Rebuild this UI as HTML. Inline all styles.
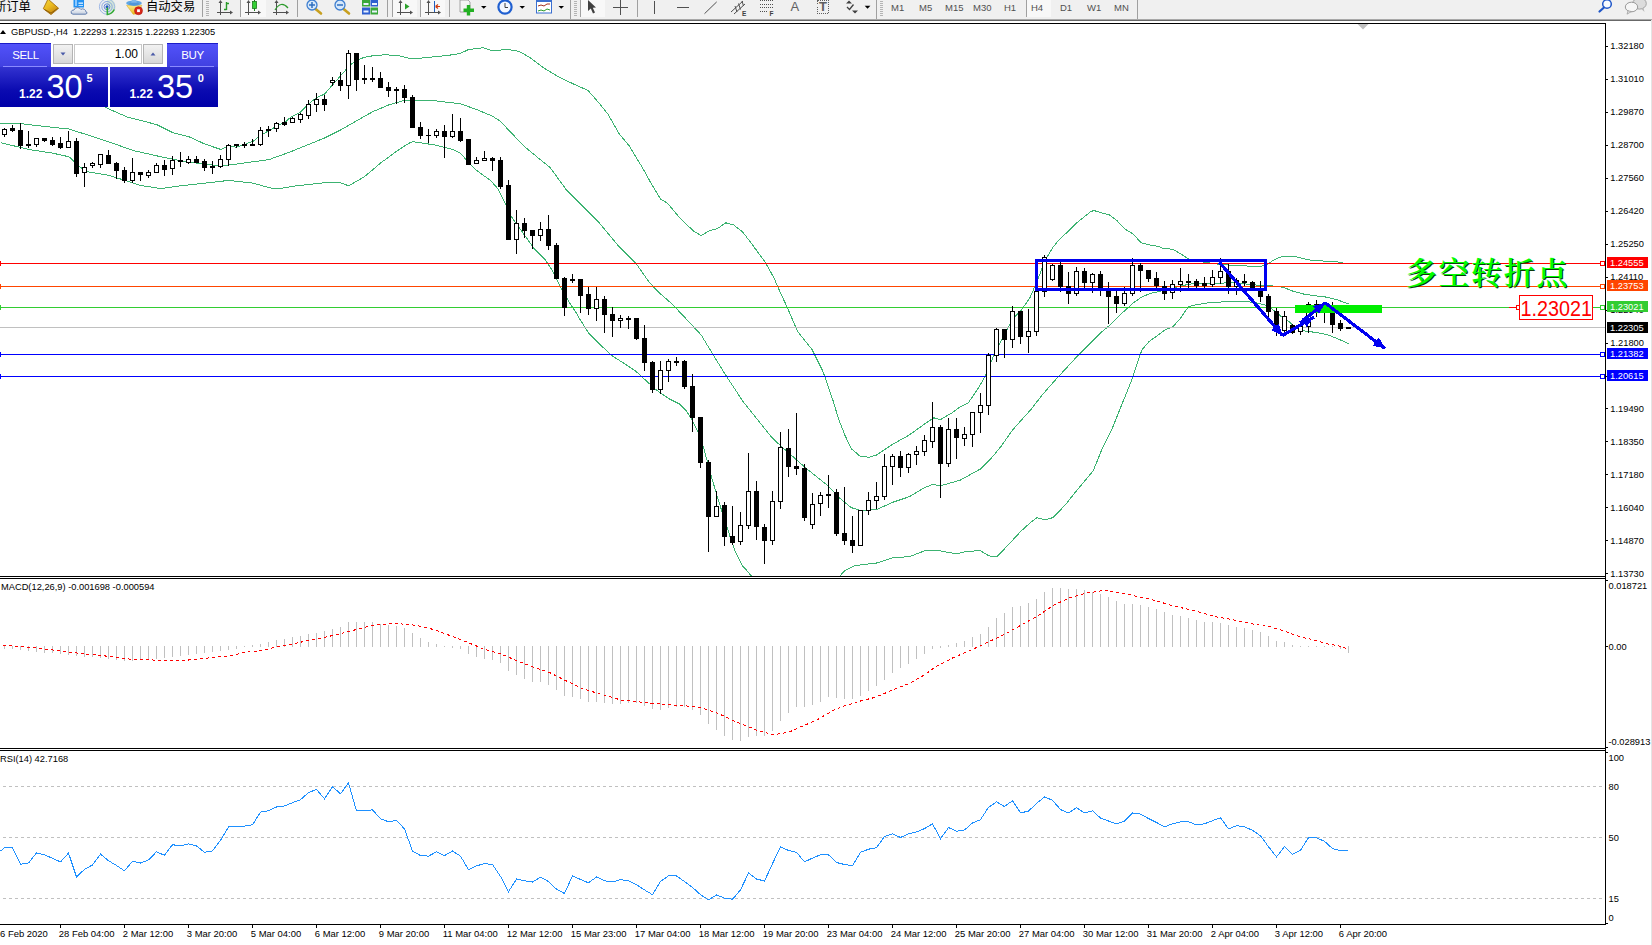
<!DOCTYPE html>
<html lang="zh"><head><meta charset="utf-8"><title>GBPUSD-,H4</title>
<style>
html,body{margin:0;padding:0;background:#fff;}
body{width:1652px;height:945px;overflow:hidden;position:relative;font-family:"Liberation Sans","Noto Sans CJK SC",sans-serif;}
#tb{position:absolute;left:0;top:0;width:1652px;height:19px;background:#f0f0f0;overflow:hidden;}
#tbl1{position:absolute;left:0;top:19px;width:1652px;height:1px;background:#a8a8a8;}
#tbl2{position:absolute;left:0;top:20px;width:1651px;height:1px;background:#686868;}
#tb .cn{position:absolute;top:-1.5px;font-size:12.3px;line-height:16px;color:#000;white-space:nowrap;}
#tb .tf{position:absolute;top:1px;font-size:9.5px;line-height:13px;color:#505050;white-space:nowrap;}
#tbicons{position:absolute;left:0;top:0;}
#tb span{z-index:2;}
#chart,#labels{position:absolute;left:0;top:0;}
#rightedge{position:absolute;left:1651px;top:20px;width:1px;height:925px;background:#e4e4e4;}
/* trade panel */
#tp{position:absolute;left:0;top:43px;width:218px;height:64px;color:#fff;}
#tp .btn{position:absolute;top:0;height:24px;width:51px;background:linear-gradient(#5252fa,#4040e0);box-sizing:border-box;border-top:1px solid #1c1cc8;font-size:11.5px;line-height:23px;text-align:center;letter-spacing:-0.4px;}
#tp .btn i{position:absolute;left:3px;right:4px;bottom:0;height:1px;background:#8a8aff;}
#tp .spin{position:absolute;left:51px;top:0;width:116px;height:24px;background:#fff;}
#tp .sb{position:absolute;top:1px;height:20px;width:20px;background:linear-gradient(#f2f2f2,#d8d8d8);border:1px solid #b4b4b4;box-sizing:border-box;}
#tp .inp{position:absolute;left:23px;top:1px;width:68px;height:20px;border:1px solid #c8c8c8;box-sizing:border-box;color:#000;font-size:12px;line-height:19px;text-align:right;padding-right:3px;}
#tp .pr{position:absolute;top:24px;height:40px;background:linear-gradient(#3232d0,#0a0ab0 60%,#0000a8);}
#tp .sm{position:absolute;font-weight:bold;font-size:12px;line-height:12px;}
#tp .bg{position:absolute;font-size:32.5px;line-height:32px;}
#tp .sup{position:absolute;font-weight:bold;font-size:11px;line-height:11px;}
</style></head><body>
<div id="tb">
<span class="cn" style="left:-6px">新订单</span>
<span class="cn" style="left:146px">自动交易</span>
<span class="tf" style="left:891px">M1</span>
<span class="tf" style="left:919px">M5</span>
<span class="tf" style="left:945px">M15</span>
<span class="tf" style="left:973px">M30</span>
<span class="tf" style="left:1004px">H1</span>
<span class="tf" style="left:1031px">H4</span>
<span class="tf" style="left:1060px">D1</span>
<span class="tf" style="left:1087px">W1</span>
<span class="tf" style="left:1114px">MN</span>
<svg id="tbicons" width="1652" height="19" viewBox="0 0 1652 19">
<rect x="241" y="0" width="25" height="17" fill="#f8f8f8"/>
<rect x="393" y="0" width="24" height="17" fill="#f8f8f8"/><rect x="421" y="0" width="24" height="17" fill="#f8f8f8"/>
<!-- gold tag -->
<defs>
<linearGradient id="gd" x1="0" y1="0" x2="0.6" y2="1"><stop offset="0" stop-color="#f7d93a"/><stop offset="0.55" stop-color="#e9b820"/><stop offset="1" stop-color="#c48410"/></linearGradient>
<linearGradient id="cl" x1="0" y1="0" x2="0" y2="1"><stop offset="0" stop-color="#ffffff"/><stop offset="1" stop-color="#c4cede"/></linearGradient>
<linearGradient id="yl" x1="0" y1="0" x2="0" y2="1"><stop offset="0" stop-color="#fbe98a"/><stop offset="1" stop-color="#e8b818"/></linearGradient>
</defs>
<polygon points="48,-1 58.600,8.300 51,14.600 43.300,8.700" fill="url(#gd)" stroke="#a87010" stroke-width="0.900" stroke-linejoin="round"/>
<path d="M44.500 9.500 L51 13.200 L57.500 8.500" fill="none" stroke="#8a5a08" stroke-width="1"/>
<!-- cloud/computer -->
<rect x="73.500" y="-1" width="10.500" height="8.500" fill="#2392f2"/>
<rect x="75" y="0" width="2" height="6" fill="#8cc8ff"/>
<rect x="78.500" y="2.500" width="4.500" height="1.300" fill="#e8f4ff"/>
<rect x="78.500" y="5" width="4.500" height="1" fill="#bfe0ff"/>
<path d="M73 14.200 Q70.600 14 71.200 11.600 Q71.800 9.800 74 10 Q74.800 7.300 77.800 7.600 Q80 7.800 80.800 9.400 Q82.600 8.300 84.400 9.400 Q85.800 10.300 85.600 11.400 Q87.300 11.800 86.900 13.200 Q86.600 14.300 85 14.200 Z" fill="url(#cl)" stroke="#5573a8" stroke-width="0.900"/>
<!-- signal -->
<path d="M107 6.700 L107 -2 A8.700 8.700 0 0 1 107 15.400 Z" fill="#cfe6cf" opacity="0.800"/>
<circle cx="107" cy="6.700" r="7.600" fill="none" stroke="#9db7e6" stroke-width="1"/>
<circle cx="107" cy="6.700" r="5.200" fill="none" stroke="#86a6e0" stroke-width="1"/>
<circle cx="107" cy="6.700" r="2.900" fill="none" stroke="#5f86d6" stroke-width="1"/>
<circle cx="107" cy="6.700" r="1.500" fill="#2457c5"/>
<path d="M107.300 7.500 L107.300 14.500 Q112 14 114.300 9.500" fill="none" stroke="#2faa2f" stroke-width="1.500"/>
<!-- hat with stop -->
<path d="M126.600 5.300 L141.900 5.300 L137 13.800 L133.200 14.300 Z" fill="url(#yl)" stroke="#d8a010" stroke-width="0.500"/>
<ellipse cx="134" cy="3.200" rx="7.800" ry="2.700" fill="#5fa6e4"/>
<path d="M131.200 3 L132 -1 L136 -1 L136.800 3 Z" fill="#7db8ec"/>
<ellipse cx="134" cy="4" rx="5" ry="1.400" fill="#3f86d0" opacity="0.500"/>
<circle cx="138.500" cy="10.700" r="4" fill="#d8281a"/>
<circle cx="138.500" cy="10.700" r="4" fill="none" stroke="#b01408" stroke-width="0.600"/>
<rect x="137.100" y="9.300" width="2.800" height="2.800" fill="#fff"/>
<!-- separator & grip -->
<rect x="202" y="0" width="1" height="17" fill="#a0a0a0"/>
<g fill="#b4b4b4"><rect x="206" y="1" width="3" height="1"/><rect x="206" y="3" width="3" height="1"/><rect x="206" y="5" width="3" height="1"/><rect x="206" y="7" width="3" height="1"/><rect x="206" y="9" width="3" height="1"/><rect x="206" y="11" width="3" height="1"/><rect x="206" y="13" width="3" height="1"/><rect x="206" y="15" width="3" height="1"/></g>
<!-- bar chart icon -->
<g stroke="#505050" stroke-width="1" fill="none" shape-rendering="crispEdges">
<path d="M220.5 1 V15 M217 12.5 H232"/>
<path d="M248.5 1 V15 M245 12.5 H260"/>
<path d="M276.5 1 V15 M273 12.5 H288"/>
<path d="M400.5 1 V15 M397 12.5 H412"/>
<path d="M428.5 1 V15 M425 12.5 H440"/>
</g>
<g fill="#505050"><polygon points="220.5,0 218.5,3 222.500,3"/><polygon points="248.5,0 246.5,3 250.5,3"/><polygon points="276.5,0 274.5,3 278.5,3"/><polygon points="400.5,0 398.5,3 402.5,3"/><polygon points="428.5,0 426.500,3 430.5,3"/>
<polygon points="233,12.5 230,10.5 230,14.5"/><polygon points="261,12.5 258,10.5 258,14.5"/><polygon points="289,12.5 286,10.5 286,14.5"/><polygon points="413,12.5 410,10.5 410,14.5"/><polygon points="441,12.5 438,10.5 438,14.5"/></g>
<path d="M226.5 2 V10 M226.5 3.5 H229 M224 9.500 H226.5" stroke="#2a9a2a" stroke-width="1.4" fill="none"/>
<rect x="240" y="0" width="1" height="17" fill="#a0a0a0"/>
<rect x="254" y="0" width="1" height="11" fill="#1f7a1f"/>
<rect x="252.500" y="1.500" width="4" height="7" fill="#35d035" stroke="#1f7a1f" stroke-width="0.8"/>
<path d="M275 10 Q281 0 288 8" stroke="#2a9a2a" stroke-width="1.2" fill="none"/>
<rect x="297" y="0" width="1" height="17" fill="#a0a0a0"/>
<!-- zoom in/out -->
<line x1="315" y1="8.500" x2="321" y2="13.500" stroke="#c8a020" stroke-width="2.6" stroke-linecap="round"/>
<circle cx="312" cy="5" r="5" fill="#d6e8fa" stroke="#3f7fd0" stroke-width="1.3"/>
<path d="M309 5 H315 M312 2 V8" stroke="#2f6fc0" stroke-width="1.5"/>
<line x1="343" y1="8.500" x2="349" y2="13.500" stroke="#c8a020" stroke-width="2.6" stroke-linecap="round"/>
<circle cx="340" cy="5" r="5" fill="#d6e8fa" stroke="#3f7fd0" stroke-width="1.3"/>
<path d="M337 5 H343" stroke="#2f6fc0" stroke-width="1.5"/>
<!-- grid tiles -->
<rect x="362" y="0" width="8" height="6.500" fill="#3aa83a"/><rect x="370.5" y="0" width="7.500" height="6.500" fill="#2f5fd0"/>
<rect x="362" y="7.500" width="8" height="7" fill="#2f5fd0"/><rect x="370.5" y="7.500" width="7.500" height="7" fill="#3aa83a"/>
<g fill="#eaf2ff"><rect x="363.500" y="3" width="5" height="2"/><rect x="372" y="3" width="5" height="2"/><rect x="363.500" y="10.500" width="5" height="2"/><rect x="372" y="10.500" width="5" height="2"/></g>
<rect x="387" y="0" width="1" height="17" fill="#a0a0a0"/>
<rect x="392" y="0" width="1" height="17" fill="#a0a0a0"/>
<polygon points="405,3.500 405,9.500 409.500,6.500" fill="#2aa02a"/>
<rect x="420" y="0" width="1" height="17" fill="#a0a0a0"/>
<rect x="434" y="1" width="1" height="11" fill="#1f5fc0"/>
<path d="M435.500 6.500 H440 M435.500 6.500 l2.500 -2 M435.500 6.500 l2.500 2" stroke="#d03a10" stroke-width="1.2" fill="none"/>
<rect x="449" y="0" width="1" height="17" fill="#a0a0a0"/>
<!-- indicators icon -->
<path d="M460 0 H468 L470 2 V12 H460Z" fill="#f4f4f4" stroke="#909090" stroke-width="0.8"/>
<path d="M468.500 5 V15.500 M463.500 10.200 H474" stroke="#22b022" stroke-width="3.400"/>
<polygon points="481,6 486.500,6 483.750,8.800" fill="#000"/>
<!-- clock -->
<circle cx="505" cy="7" r="6.600" fill="#f4f8ff" stroke="#1f5fd0" stroke-width="2.200"/>
<path d="M505 3 V7.500 H508" stroke="#404040" stroke-width="1" fill="none"/>
<polygon points="519.5,6 525,6 522.250,8.800" fill="#000"/>
<!-- template -->
<rect x="536.500" y="0" width="15" height="13" fill="#fff" stroke="#3a6fd0" stroke-width="1"/>
<rect x="536.500" y="0" width="15" height="2" fill="#3a6fd0"/>
<path d="M538 6 l3 -1 l3 1 l3 -2 l3 0" stroke="#a03020" stroke-width="1" fill="none"/>
<path d="M538 11 l3 -1 l3 1 l3 -2 l3 1" stroke="#2a9a2a" stroke-width="1" fill="none"/>
<polygon points="558.500,6 564,6 561.250,8.800" fill="#000"/>
<rect x="570" y="0" width="1" height="19" fill="#a0a0a0"/>
<g fill="#b4b4b4"><rect x="574" y="1" width="3" height="1"/><rect x="574" y="3" width="3" height="1"/><rect x="574" y="5" width="3" height="1"/><rect x="574" y="7" width="3" height="1"/><rect x="574" y="9" width="3" height="1"/><rect x="574" y="11" width="3" height="1"/><rect x="574" y="13" width="3" height="1"/><rect x="574" y="15" width="3" height="1"/></g>
<rect x="580" y="0" width="1" height="17" fill="#a0a0a0"/>
<rect x="581" y="0" width="24" height="17" fill="#f8f8f8"/>
<polygon points="588,0 588,11 590.800,8.500 593,13.500 595,12.600 592.800,7.800 596,7.500" fill="#404040"/>
<path d="M620.500 0 V15 M613 7.500 H628" stroke="#505050" stroke-width="1" fill="none" shape-rendering="crispEdges"/>
<rect x="637" y="0" width="1" height="17" fill="#a0a0a0"/>
<rect x="654" y="1" width="1" height="13" fill="#505050"/>
<rect x="677" y="7" width="12" height="1" fill="#505050"/>
<line x1="704.500" y1="13.700" x2="716.700" y2="1.900" stroke="#505050" stroke-width="1"/>
<path d="M731 12 L743 1 M734 14 L745 4 M735 6 l2 6 M738.500 3.500 l2 6 M742 1 l1.500 5" stroke="#505050" stroke-width="1" fill="none"/>
<path d="M760 0.500 H773 M760 4 H773 M760 7.500 H773 M760 11.500 H768" stroke="#505050" stroke-width="1" stroke-dasharray="1 1" fill="none" shape-rendering="crispEdges"/>
<rect x="828" y="0" width="1" height="0" fill="#000"/>
<rect x="817.500" y="0.500" width="11" height="12.500" fill="none" stroke="#606060" stroke-width="1" stroke-dasharray="1 1" shape-rendering="crispEdges"/>
<path d="M846 3.500 l3 -3 l3 3 Z M852 10.500 l3 3 l3 -3Z" fill="#404040"/>
<path d="M847 7 l2.500 2.500 l4 -5" stroke="#404040" stroke-width="1.300" fill="none"/>
<polygon points="864.700,5.800 870.400,5.800 867.550,8.800" fill="#000"/>
<rect x="876" y="0" width="1" height="19" fill="#a0a0a0"/>
<g fill="#b4b4b4"><rect x="880" y="1" width="3" height="1"/><rect x="880" y="3" width="3" height="1"/><rect x="880" y="5" width="3" height="1"/><rect x="880" y="7" width="3" height="1"/><rect x="880" y="9" width="3" height="1"/><rect x="880" y="11" width="3" height="1"/><rect x="880" y="13" width="3" height="1"/><rect x="880" y="15" width="3" height="1"/></g>
<rect x="1026" y="0" width="25" height="17" fill="#f8f8f8"/>
<rect x="1026" y="0" width="1" height="17" fill="#a0a0a0"/>
<rect x="1137" y="0" width="1" height="19" fill="#a0a0a0"/>
<!-- search -->
<circle cx="1607" cy="4" r="4.300" fill="#f8fbff" stroke="#1f56c8" stroke-width="1.500"/>
<line x1="1604" y1="7.500" x2="1599.500" y2="11.500" stroke="#1f56c8" stroke-width="2.200" stroke-linecap="round"/>
<!-- bubbles -->
<ellipse cx="1639.500" cy="3.500" rx="6.800" ry="5.600" fill="#dcdcdc" stroke="#9a9a9a" stroke-width="0.900"/>
<polygon points="1641,8.500 1644.500,12 1643.500,7.800" fill="#b8b8b8"/>
<ellipse cx="1631.500" cy="7" rx="6.200" ry="4.800" fill="#f6f6f6" stroke="#8e8e8e" stroke-width="0.900"/>
<polygon points="1628,10.800 1627,14.200 1631.500,11.500" fill="#e0e0e0" stroke="#8e8e8e" stroke-width="0.600"/>
</svg>
<span class="tf" style="left:790.500px;top:-1px;font-size:13px;line-height:16px;color:#606060">A</span>
<span class="tf" style="left:819px;top:-1px;font-size:13px;line-height:16px;color:#606060;font-weight:bold">T</span>
<span class="tf" style="left:742px;top:10px;font-size:6.500px;line-height:7px;color:#404040;font-weight:bold">E</span>
<span class="tf" style="left:769.500px;top:10px;font-size:6.500px;line-height:7px;color:#404040;font-weight:bold">F</span>
</div>
<div id="tbl1"></div><div id="tbl2"></div>
<svg id="chart" width="1652" height="945" viewBox="0 0 1652 945" shape-rendering="crispEdges">
<defs><clipPath id="cm"><rect x="0" y="24" width="1605" height="552"/></clipPath></defs>
<rect x="0" y="23" width="1606" height="1" fill="#000"/>
<rect x="0" y="576" width="1606" height="1" fill="#000"/>
<rect x="0" y="578" width="1606" height="1" fill="#000"/>
<rect x="0" y="748" width="1606" height="1" fill="#000"/>
<rect x="0" y="750" width="1606" height="1" fill="#000"/>
<rect x="0" y="924" width="1606" height="1" fill="#000"/>
<rect x="1605" y="23" width="1" height="902" fill="#000"/>
<polygon points="1357.5,24 1368.5,24 1363,29.5" fill="#c0c0c0" shape-rendering="geometricPrecision"/>
<g clip-path="url(#cm)">
<polyline points="90.5,100.5 110.4,109.6 127.6,117.2 141.0,120.5 157.0,124.7 173.0,132.8 189.0,136.8 205.0,144.1 220.9,149.5 228.9,145.9 236.5,147.3 252.9,141.4 261.1,135.0 269.1,130.5 277.1,125.9 285.0,122.3 290.5,117.3 300.5,112.2 308.5,104.0 316.5,97.7 324.5,94.1 332.5,85.0 340.5,75.9 348.5,66.8 353.1,62.8 360.5,58.6 368.5,56.3 384.9,54.7 399.5,55.9 412.5,59.0 428.5,57.4 446.5,55.6 459.5,53.7 468.5,49.6 483.0,47.8 492.1,50.5 508.5,49.6 519.3,51.4 530.2,57.7 544.7,68.6 559.2,77.3 573.8,84.1 588.1,90.5 600.5,104.8 608.1,114.3 619.5,134.3 629.1,145.7 642.4,167.6 651.9,184.8 660.5,199.1 667.5,203.2 681.2,219.5 693.9,231.3 701.1,235.5 710.2,230.4 717.5,228.6 725.7,222.8 733.8,225.0 742.9,232.2 753.8,246.7 764.7,261.3 773.8,277.6 781.0,294.0 786.6,305.9 797.5,331.3 812.0,349.5 822.9,371.3 833.0,400.5 838.5,418.7 844.8,435.0 851.2,448.6 860.3,456.4 869.4,457.2 876.6,455.0 893.0,444.1 909.3,435.0 924.5,424.1 933.8,417.8 940.5,419.6 952.9,412.3 960.5,406.6 968.5,402.6 978.6,387.6 985.9,374.9 993.2,356.7 1002.2,338.6 1013.1,318.6 1020.4,311.3 1029.5,298.6 1036.7,282.3 1045.8,258.7 1048.7,254.5 1053.2,247.0 1059.3,239.4 1066.8,232.6 1075.9,223.5 1083.5,217.4 1091.0,211.4 1094.1,210.6 1100.1,212.4 1109.2,214.9 1116.8,220.5 1125.8,229.5 1133.4,234.1 1141.0,242.7 1148.5,244.7 1157.6,246.2 1163.7,248.5 1172.8,249.2 1181.8,254.5 1188.6,259.1 1203.0,262.1 1219.7,264.4 1242.4,265.9 1260.5,266.3 1266.5,265.1 1272.6,260.6 1278.7,257.5 1283.7,256.5 1297.0,256.9 1307.7,259.8 1323.7,261.1 1337.0,261.8 1345.0,263.4 1348.5,264.0" fill="none" stroke="#3cb371" stroke-width="1"/>
<polyline points="0.5,123.2 21.0,123.7 45.0,126.5 69.0,129.0 84.9,134.1 108.9,141.9 133.1,150.5 157.0,155.9 181.0,160.8 197.0,163.1 213.0,165.0 220.9,165.9 236.5,164.1 269.3,159.5 290.5,151.8 308.5,144.5 324.5,138.0 340.5,130.0 356.5,120.9 372.5,111.8 388.5,105.0 404.5,100.4 417.5,100.4 436.5,101.0 452.5,102.8 461.2,104.0 476.5,109.5 492.5,116.2 500.5,121.3 508.5,130.0 524.7,146.7 541.1,160.3 550.2,167.6 566.8,190.5 584.9,208.6 599.5,223.1 617.6,244.9 635.8,263.1 648.5,281.2 657.7,291.4 672.2,304.1 686.7,319.5 701.2,335.0 712.1,353.1 726.7,376.7 737.6,393.1 742.2,400.5 756.8,418.7 771.3,436.8 780.7,445.9 793.1,456.8 807.6,469.5 825.8,484.0 840.3,498.6 851.2,507.6 860.3,510.4 876.6,509.5 893.0,502.2 909.3,496.7 924.5,487.7 932.5,484.4 940.5,485.8 956.5,481.3 960.5,480.0 980.6,468.9 990.7,458.9 1000.7,446.8 1012.8,429.7 1020.8,420.7 1030.9,409.6 1042.2,394.9 1056.7,378.5 1078.5,354.9 1100.3,333.1 1109.4,325.5 1122.1,313.1 1133.0,303.1 1142.1,296.8 1151.1,293.2 1158.4,291.7 1170.5,288.5 1180.5,286.0 1194.7,283.2 1204.5,284.1 1217.1,283.4 1232.5,282.5 1250.5,284.5 1265.1,285.8 1273.1,286.0 1283.7,287.4 1291.7,290.8 1305.0,294.4 1315.7,295.8 1326.3,297.1 1337.0,299.8 1348.5,303.8" fill="none" stroke="#3cb371" stroke-width="1"/>
<polyline points="0.5,142.6 29.0,149.5 53.0,153.2 69.0,156.8 77.1,164.1 84.9,171.3 108.9,175.3 124.9,180.4 141.0,185.5 157.0,188.0 165.0,188.0 181.0,185.8 205.0,183.1 228.9,180.4 252.9,183.1 269.1,187.7 277.1,188.9 293.0,186.3 308.5,184.5 324.5,182.7 340.5,182.7 348.5,185.8 364.5,176.7 380.5,163.1 396.5,151.3 408.5,143.5 412.5,141.6 420.5,142.7 436.5,145.3 452.5,149.4 460.5,153.1 468.5,162.7 476.5,170.3 490.5,180.5 497.8,188.6 505.9,205.0 511.4,216.8 525.0,235.8 534.1,248.5 545.0,259.5 552.2,270.3 560.4,286.7 568.5,301.2 575.8,312.1 579.5,318.6 588.7,333.2 599.5,344.1 612.3,355.9 625.0,364.0 635.9,371.3 646.8,381.3 655.8,389.5 668.5,398.5 679.5,404.0 686.7,411.2 692.2,420.3 698.7,433.2 704.1,449.5 711.4,476.8 716.8,494.9 724.1,518.5 729.5,534.9 735.0,551.2 742.2,565.7 746.8,570.5 752.5,577.5 765.5,590.5 800.5,598.5 828.5,588.5 838.5,577.5 844.8,570.5 854.8,565.7 876.6,563.0 893.0,557.6 909.3,556.7 924.5,550.9 940.5,550.9 956.5,553.9 967.4,551.2 980.6,550.8 988.7,555.8 996.7,557.0 1008.8,544.3 1020.8,531.3 1030.9,522.2 1036.9,517.8 1045.0,519.8 1053.0,517.6 1065.1,505.1 1077.1,490.0 1093.2,470.9 1101.3,450.8 1111.3,430.7 1119.4,410.6 1125.7,394.9 1133.0,376.7 1137.5,362.2 1142.1,349.5 1149.3,341.3 1158.4,334.9 1165.7,329.5 1172.9,326.8 1180.2,318.6 1188.4,306.8 1194.7,305.0 1207.8,302.8 1223.8,301.8 1249.1,301.8 1257.1,303.1 1265.1,305.1 1272.5,309.5 1281.1,316.4 1289.0,321.7 1294.4,327.1 1305.0,331.1 1315.7,332.4 1326.3,334.4 1337.0,338.4 1348.5,343.7" fill="none" stroke="#3cb371" stroke-width="1"/>
<rect x="0" y="263" width="1605" height="1" fill="#ff0000"/>
<rect x="0" y="286" width="1605" height="1" fill="#ff4500"/>
<rect x="0" y="307" width="1605" height="1" fill="#32cd32"/>
<rect x="0" y="327" width="1605" height="1" fill="#c0c0c0"/>
<rect x="0" y="354" width="1605" height="1" fill="#0000ff"/>
<rect x="0" y="376" width="1605" height="1" fill="#0000ff"/>
<rect x="4" y="128" width="1" height="9" fill="#000"/>
<rect x="2" y="129" width="5" height="6" fill="#000"/>
<rect x="3" y="130" width="3" height="4" fill="#fff"/>
<rect x="12" y="125" width="1" height="7" fill="#000"/>
<rect x="10" y="128" width="5" height="3" fill="#000"/>
<rect x="20" y="123" width="1" height="26" fill="#000"/>
<rect x="18" y="130" width="5" height="16" fill="#000"/>
<rect x="28" y="131" width="1" height="17" fill="#000"/>
<rect x="26" y="144" width="5" height="2" fill="#000"/>
<rect x="36" y="138" width="1" height="9" fill="#000"/>
<rect x="34" y="138" width="5" height="7" fill="#000"/>
<rect x="35" y="139" width="3" height="5" fill="#fff"/>
<rect x="44" y="138" width="1" height="4" fill="#000"/>
<rect x="42" y="138" width="5" height="3" fill="#000"/>
<rect x="52" y="137" width="1" height="9" fill="#000"/>
<rect x="50" y="140" width="5" height="5" fill="#000"/>
<rect x="60" y="137" width="1" height="12" fill="#000"/>
<rect x="58" y="143" width="5" height="5" fill="#000"/>
<rect x="68" y="131" width="1" height="17" fill="#000"/>
<rect x="66" y="141" width="5" height="7" fill="#000"/>
<rect x="67" y="142" width="3" height="5" fill="#fff"/>
<rect x="76" y="138" width="1" height="39" fill="#000"/>
<rect x="74" y="141" width="5" height="33" fill="#000"/>
<rect x="84" y="163" width="1" height="24" fill="#000"/>
<rect x="82" y="167" width="5" height="6" fill="#000"/>
<rect x="83" y="168" width="3" height="4" fill="#fff"/>
<rect x="92" y="162" width="1" height="6" fill="#000"/>
<rect x="90" y="163" width="5" height="3" fill="#000"/>
<rect x="91" y="164" width="3" height="1" fill="#fff"/>
<rect x="100" y="154" width="1" height="14" fill="#000"/>
<rect x="98" y="154" width="5" height="11" fill="#000"/>
<rect x="99" y="155" width="3" height="9" fill="#fff"/>
<rect x="108" y="150" width="1" height="14" fill="#000"/>
<rect x="106" y="155" width="5" height="9" fill="#000"/>
<rect x="116" y="162" width="1" height="17" fill="#000"/>
<rect x="114" y="163" width="5" height="8" fill="#000"/>
<rect x="124" y="167" width="1" height="16" fill="#000"/>
<rect x="122" y="170" width="5" height="11" fill="#000"/>
<rect x="132" y="158" width="1" height="25" fill="#000"/>
<rect x="130" y="172" width="5" height="9" fill="#000"/>
<rect x="131" y="173" width="3" height="7" fill="#fff"/>
<rect x="140" y="172" width="1" height="9" fill="#000"/>
<rect x="138" y="172" width="5" height="3" fill="#000"/>
<rect x="148" y="170" width="1" height="8" fill="#000"/>
<rect x="146" y="172" width="5" height="4" fill="#000"/>
<rect x="147" y="173" width="3" height="2" fill="#fff"/>
<rect x="156" y="163" width="1" height="10" fill="#000"/>
<rect x="154" y="165" width="5" height="8" fill="#000"/>
<rect x="155" y="166" width="3" height="6" fill="#fff"/>
<rect x="164" y="160" width="1" height="16" fill="#000"/>
<rect x="162" y="165" width="5" height="5" fill="#000"/>
<rect x="172" y="156" width="1" height="19" fill="#000"/>
<rect x="170" y="160" width="5" height="9" fill="#000"/>
<rect x="171" y="161" width="3" height="7" fill="#fff"/>
<rect x="180" y="152" width="1" height="15" fill="#000"/>
<rect x="178" y="160" width="5" height="2" fill="#000"/>
<rect x="188" y="156" width="1" height="8" fill="#000"/>
<rect x="186" y="159" width="5" height="4" fill="#000"/>
<rect x="187" y="160" width="3" height="2" fill="#fff"/>
<rect x="196" y="156" width="1" height="7" fill="#000"/>
<rect x="194" y="159" width="5" height="4" fill="#000"/>
<rect x="204" y="159" width="1" height="12" fill="#000"/>
<rect x="202" y="161" width="5" height="7" fill="#000"/>
<rect x="212" y="161" width="1" height="13" fill="#000"/>
<rect x="210" y="166" width="5" height="2" fill="#000"/>
<rect x="220" y="155" width="1" height="13" fill="#000"/>
<rect x="218" y="159" width="5" height="8" fill="#000"/>
<rect x="219" y="160" width="3" height="6" fill="#fff"/>
<rect x="228" y="144" width="1" height="22" fill="#000"/>
<rect x="226" y="145" width="5" height="15" fill="#000"/>
<rect x="227" y="146" width="3" height="13" fill="#fff"/>
<rect x="236" y="144" width="1" height="4" fill="#000"/>
<rect x="234" y="144" width="5" height="2" fill="#000"/>
<rect x="244" y="142" width="1" height="6" fill="#000"/>
<rect x="242" y="144" width="5" height="2" fill="#000"/>
<rect x="252" y="139" width="1" height="7" fill="#000"/>
<rect x="250" y="144" width="5" height="2" fill="#000"/>
<rect x="260" y="127" width="1" height="19" fill="#000"/>
<rect x="258" y="130" width="5" height="15" fill="#000"/>
<rect x="259" y="131" width="3" height="13" fill="#fff"/>
<rect x="268" y="126" width="1" height="11" fill="#000"/>
<rect x="266" y="129" width="5" height="2" fill="#000"/>
<rect x="276" y="122" width="1" height="10" fill="#000"/>
<rect x="274" y="123" width="5" height="6" fill="#000"/>
<rect x="275" y="124" width="3" height="4" fill="#fff"/>
<rect x="284" y="117" width="1" height="9" fill="#000"/>
<rect x="282" y="122" width="5" height="3" fill="#000"/>
<rect x="292" y="117" width="1" height="6" fill="#000"/>
<rect x="290" y="118" width="5" height="5" fill="#000"/>
<rect x="291" y="119" width="3" height="3" fill="#fff"/>
<rect x="300" y="113" width="1" height="10" fill="#000"/>
<rect x="298" y="114" width="5" height="6" fill="#000"/>
<rect x="299" y="115" width="3" height="4" fill="#fff"/>
<rect x="308" y="100" width="1" height="19" fill="#000"/>
<rect x="306" y="104" width="5" height="12" fill="#000"/>
<rect x="307" y="105" width="3" height="10" fill="#fff"/>
<rect x="316" y="93" width="1" height="19" fill="#000"/>
<rect x="314" y="99" width="5" height="6" fill="#000"/>
<rect x="315" y="100" width="3" height="4" fill="#fff"/>
<rect x="324" y="95" width="1" height="16" fill="#000"/>
<rect x="322" y="99" width="5" height="6" fill="#000"/>
<rect x="332" y="77" width="1" height="9" fill="#000"/>
<rect x="330" y="80" width="5" height="3" fill="#000"/>
<rect x="331" y="81" width="3" height="1" fill="#fff"/>
<rect x="340" y="72" width="1" height="19" fill="#000"/>
<rect x="338" y="80" width="5" height="6" fill="#000"/>
<rect x="348" y="50" width="1" height="49" fill="#000"/>
<rect x="346" y="53" width="5" height="33" fill="#000"/>
<rect x="347" y="54" width="3" height="31" fill="#fff"/>
<rect x="356" y="53" width="1" height="38" fill="#000"/>
<rect x="354" y="53" width="5" height="27" fill="#000"/>
<rect x="364" y="65" width="1" height="19" fill="#000"/>
<rect x="362" y="78" width="5" height="2" fill="#000"/>
<rect x="372" y="67" width="1" height="15" fill="#000"/>
<rect x="370" y="78" width="5" height="2" fill="#000"/>
<rect x="380" y="72" width="1" height="16" fill="#000"/>
<rect x="378" y="78" width="5" height="10" fill="#000"/>
<rect x="388" y="82" width="1" height="15" fill="#000"/>
<rect x="386" y="87" width="5" height="4" fill="#000"/>
<rect x="396" y="87" width="1" height="17" fill="#000"/>
<rect x="394" y="89" width="5" height="2" fill="#000"/>
<rect x="404" y="85" width="1" height="18" fill="#000"/>
<rect x="402" y="89" width="5" height="9" fill="#000"/>
<rect x="412" y="95" width="1" height="33" fill="#000"/>
<rect x="410" y="97" width="5" height="31" fill="#000"/>
<rect x="420" y="122" width="1" height="17" fill="#000"/>
<rect x="418" y="127" width="5" height="9" fill="#000"/>
<rect x="428" y="129" width="1" height="14" fill="#000"/>
<rect x="426" y="135" width="5" height="1" fill="#000"/>
<rect x="436" y="129" width="1" height="9" fill="#000"/>
<rect x="434" y="131" width="5" height="5" fill="#000"/>
<rect x="435" y="132" width="3" height="3" fill="#fff"/>
<rect x="444" y="125" width="1" height="33" fill="#000"/>
<rect x="442" y="131" width="5" height="6" fill="#000"/>
<rect x="452" y="114" width="1" height="24" fill="#000"/>
<rect x="450" y="131" width="5" height="6" fill="#000"/>
<rect x="451" y="132" width="3" height="4" fill="#fff"/>
<rect x="460" y="118" width="1" height="24" fill="#000"/>
<rect x="458" y="131" width="5" height="10" fill="#000"/>
<rect x="468" y="139" width="1" height="26" fill="#000"/>
<rect x="466" y="139" width="5" height="26" fill="#000"/>
<rect x="476" y="157" width="1" height="7" fill="#000"/>
<rect x="474" y="160" width="5" height="4" fill="#000"/>
<rect x="475" y="161" width="3" height="2" fill="#fff"/>
<rect x="484" y="151" width="1" height="10" fill="#000"/>
<rect x="482" y="158" width="5" height="3" fill="#000"/>
<rect x="483" y="159" width="3" height="1" fill="#fff"/>
<rect x="492" y="157" width="1" height="14" fill="#000"/>
<rect x="490" y="158" width="5" height="3" fill="#000"/>
<rect x="500" y="157" width="1" height="32" fill="#000"/>
<rect x="498" y="160" width="5" height="27" fill="#000"/>
<rect x="508" y="180" width="1" height="60" fill="#000"/>
<rect x="506" y="185" width="5" height="55" fill="#000"/>
<rect x="516" y="210" width="1" height="44" fill="#000"/>
<rect x="514" y="223" width="5" height="17" fill="#000"/>
<rect x="515" y="224" width="3" height="15" fill="#fff"/>
<rect x="524" y="218" width="1" height="20" fill="#000"/>
<rect x="522" y="223" width="5" height="8" fill="#000"/>
<rect x="532" y="230" width="1" height="19" fill="#000"/>
<rect x="530" y="230" width="5" height="6" fill="#000"/>
<rect x="540" y="222" width="1" height="19" fill="#000"/>
<rect x="538" y="229" width="5" height="7" fill="#000"/>
<rect x="539" y="230" width="3" height="5" fill="#fff"/>
<rect x="548" y="215" width="1" height="35" fill="#000"/>
<rect x="546" y="229" width="5" height="17" fill="#000"/>
<rect x="556" y="243" width="1" height="36" fill="#000"/>
<rect x="554" y="245" width="5" height="34" fill="#000"/>
<rect x="564" y="277" width="1" height="39" fill="#000"/>
<rect x="562" y="278" width="5" height="30" fill="#000"/>
<rect x="572" y="274" width="1" height="9" fill="#000"/>
<rect x="570" y="279" width="5" height="2" fill="#000"/>
<rect x="580" y="279" width="1" height="34" fill="#000"/>
<rect x="578" y="279" width="5" height="17" fill="#000"/>
<rect x="588" y="287" width="1" height="28" fill="#000"/>
<rect x="586" y="294" width="5" height="15" fill="#000"/>
<rect x="596" y="287" width="1" height="34" fill="#000"/>
<rect x="594" y="299" width="5" height="10" fill="#000"/>
<rect x="595" y="300" width="3" height="8" fill="#fff"/>
<rect x="604" y="296" width="1" height="37" fill="#000"/>
<rect x="602" y="299" width="5" height="16" fill="#000"/>
<rect x="612" y="307" width="1" height="30" fill="#000"/>
<rect x="610" y="314" width="5" height="7" fill="#000"/>
<rect x="620" y="315" width="1" height="13" fill="#000"/>
<rect x="618" y="318" width="5" height="3" fill="#000"/>
<rect x="619" y="319" width="3" height="1" fill="#fff"/>
<rect x="628" y="316" width="1" height="13" fill="#000"/>
<rect x="626" y="318" width="5" height="2" fill="#000"/>
<rect x="636" y="318" width="1" height="22" fill="#000"/>
<rect x="634" y="318" width="5" height="21" fill="#000"/>
<rect x="644" y="325" width="1" height="46" fill="#000"/>
<rect x="642" y="338" width="5" height="25" fill="#000"/>
<rect x="652" y="361" width="1" height="32" fill="#000"/>
<rect x="650" y="362" width="5" height="28" fill="#000"/>
<rect x="660" y="361" width="1" height="33" fill="#000"/>
<rect x="658" y="370" width="5" height="20" fill="#000"/>
<rect x="659" y="371" width="3" height="18" fill="#fff"/>
<rect x="668" y="359" width="1" height="23" fill="#000"/>
<rect x="666" y="361" width="5" height="10" fill="#000"/>
<rect x="667" y="362" width="3" height="8" fill="#fff"/>
<rect x="676" y="357" width="1" height="9" fill="#000"/>
<rect x="674" y="361" width="5" height="2" fill="#000"/>
<rect x="684" y="360" width="1" height="29" fill="#000"/>
<rect x="682" y="361" width="5" height="26" fill="#000"/>
<rect x="692" y="374" width="1" height="58" fill="#000"/>
<rect x="690" y="386" width="5" height="32" fill="#000"/>
<rect x="700" y="417" width="1" height="51" fill="#000"/>
<rect x="698" y="417" width="5" height="46" fill="#000"/>
<rect x="708" y="460" width="1" height="92" fill="#000"/>
<rect x="706" y="462" width="5" height="55" fill="#000"/>
<rect x="716" y="491" width="1" height="26" fill="#000"/>
<rect x="714" y="506" width="5" height="11" fill="#000"/>
<rect x="715" y="507" width="3" height="9" fill="#fff"/>
<rect x="724" y="502" width="1" height="44" fill="#000"/>
<rect x="722" y="505" width="5" height="32" fill="#000"/>
<rect x="732" y="506" width="1" height="39" fill="#000"/>
<rect x="730" y="536" width="5" height="7" fill="#000"/>
<rect x="740" y="512" width="1" height="33" fill="#000"/>
<rect x="738" y="525" width="5" height="17" fill="#000"/>
<rect x="739" y="526" width="3" height="15" fill="#fff"/>
<rect x="748" y="453" width="1" height="76" fill="#000"/>
<rect x="746" y="491" width="5" height="35" fill="#000"/>
<rect x="747" y="492" width="3" height="33" fill="#fff"/>
<rect x="756" y="481" width="1" height="59" fill="#000"/>
<rect x="754" y="491" width="5" height="36" fill="#000"/>
<rect x="764" y="524" width="1" height="40" fill="#000"/>
<rect x="762" y="527" width="5" height="14" fill="#000"/>
<rect x="772" y="491" width="1" height="54" fill="#000"/>
<rect x="770" y="501" width="5" height="40" fill="#000"/>
<rect x="771" y="502" width="3" height="38" fill="#fff"/>
<rect x="780" y="432" width="1" height="77" fill="#000"/>
<rect x="778" y="447" width="5" height="55" fill="#000"/>
<rect x="779" y="448" width="3" height="53" fill="#fff"/>
<rect x="788" y="429" width="1" height="48" fill="#000"/>
<rect x="786" y="448" width="5" height="19" fill="#000"/>
<rect x="796" y="413" width="1" height="62" fill="#000"/>
<rect x="794" y="466" width="5" height="3" fill="#000"/>
<rect x="804" y="464" width="1" height="57" fill="#000"/>
<rect x="802" y="468" width="5" height="50" fill="#000"/>
<rect x="812" y="493" width="1" height="36" fill="#000"/>
<rect x="810" y="504" width="5" height="21" fill="#000"/>
<rect x="811" y="505" width="3" height="19" fill="#fff"/>
<rect x="820" y="492" width="1" height="24" fill="#000"/>
<rect x="818" y="495" width="5" height="9" fill="#000"/>
<rect x="819" y="496" width="3" height="7" fill="#fff"/>
<rect x="828" y="475" width="1" height="33" fill="#000"/>
<rect x="826" y="494" width="5" height="2" fill="#000"/>
<rect x="836" y="489" width="1" height="47" fill="#000"/>
<rect x="834" y="492" width="5" height="42" fill="#000"/>
<rect x="844" y="487" width="1" height="58" fill="#000"/>
<rect x="842" y="533" width="5" height="8" fill="#000"/>
<rect x="852" y="516" width="1" height="37" fill="#000"/>
<rect x="850" y="540" width="5" height="6" fill="#000"/>
<rect x="860" y="510" width="1" height="36" fill="#000"/>
<rect x="858" y="510" width="5" height="36" fill="#000"/>
<rect x="859" y="511" width="3" height="34" fill="#fff"/>
<rect x="868" y="492" width="1" height="23" fill="#000"/>
<rect x="866" y="500" width="5" height="11" fill="#000"/>
<rect x="867" y="501" width="3" height="9" fill="#fff"/>
<rect x="876" y="482" width="1" height="27" fill="#000"/>
<rect x="874" y="496" width="5" height="5" fill="#000"/>
<rect x="875" y="497" width="3" height="3" fill="#fff"/>
<rect x="884" y="454" width="1" height="46" fill="#000"/>
<rect x="882" y="466" width="5" height="31" fill="#000"/>
<rect x="883" y="467" width="3" height="29" fill="#fff"/>
<rect x="892" y="454" width="1" height="31" fill="#000"/>
<rect x="890" y="456" width="5" height="11" fill="#000"/>
<rect x="891" y="457" width="3" height="9" fill="#fff"/>
<rect x="900" y="451" width="1" height="26" fill="#000"/>
<rect x="898" y="456" width="5" height="12" fill="#000"/>
<rect x="908" y="453" width="1" height="20" fill="#000"/>
<rect x="906" y="454" width="5" height="14" fill="#000"/>
<rect x="907" y="455" width="3" height="12" fill="#fff"/>
<rect x="916" y="446" width="1" height="19" fill="#000"/>
<rect x="914" y="451" width="5" height="4" fill="#000"/>
<rect x="915" y="452" width="3" height="2" fill="#fff"/>
<rect x="924" y="435" width="1" height="21" fill="#000"/>
<rect x="922" y="440" width="5" height="12" fill="#000"/>
<rect x="923" y="441" width="3" height="10" fill="#fff"/>
<rect x="932" y="402" width="1" height="46" fill="#000"/>
<rect x="930" y="427" width="5" height="15" fill="#000"/>
<rect x="931" y="428" width="3" height="13" fill="#fff"/>
<rect x="940" y="425" width="1" height="73" fill="#000"/>
<rect x="938" y="427" width="5" height="37" fill="#000"/>
<rect x="948" y="418" width="1" height="49" fill="#000"/>
<rect x="946" y="429" width="5" height="35" fill="#000"/>
<rect x="947" y="430" width="3" height="33" fill="#fff"/>
<rect x="956" y="418" width="1" height="41" fill="#000"/>
<rect x="954" y="429" width="5" height="9" fill="#000"/>
<rect x="964" y="427" width="1" height="19" fill="#000"/>
<rect x="962" y="434" width="5" height="5" fill="#000"/>
<rect x="963" y="435" width="3" height="3" fill="#fff"/>
<rect x="972" y="412" width="1" height="35" fill="#000"/>
<rect x="970" y="412" width="5" height="23" fill="#000"/>
<rect x="971" y="413" width="3" height="21" fill="#fff"/>
<rect x="980" y="393" width="1" height="40" fill="#000"/>
<rect x="978" y="405" width="5" height="8" fill="#000"/>
<rect x="979" y="406" width="3" height="6" fill="#fff"/>
<rect x="988" y="353" width="1" height="62" fill="#000"/>
<rect x="986" y="355" width="5" height="51" fill="#000"/>
<rect x="987" y="356" width="3" height="49" fill="#fff"/>
<rect x="996" y="328" width="1" height="34" fill="#000"/>
<rect x="994" y="329" width="5" height="27" fill="#000"/>
<rect x="995" y="330" width="3" height="25" fill="#fff"/>
<rect x="1004" y="329" width="1" height="29" fill="#000"/>
<rect x="1002" y="329" width="5" height="11" fill="#000"/>
<rect x="1012" y="306" width="1" height="42" fill="#000"/>
<rect x="1010" y="311" width="5" height="29" fill="#000"/>
<rect x="1011" y="312" width="3" height="27" fill="#fff"/>
<rect x="1020" y="311" width="1" height="33" fill="#000"/>
<rect x="1018" y="311" width="5" height="26" fill="#000"/>
<rect x="1028" y="309" width="1" height="44" fill="#000"/>
<rect x="1026" y="331" width="5" height="6" fill="#000"/>
<rect x="1027" y="332" width="3" height="4" fill="#fff"/>
<rect x="1036" y="291" width="1" height="45" fill="#000"/>
<rect x="1034" y="291" width="5" height="41" fill="#000"/>
<rect x="1035" y="292" width="3" height="39" fill="#fff"/>
<rect x="1044" y="255" width="1" height="42" fill="#000"/>
<rect x="1042" y="257" width="5" height="35" fill="#000"/>
<rect x="1043" y="258" width="3" height="33" fill="#fff"/>
<rect x="1052" y="264" width="1" height="17" fill="#000"/>
<rect x="1050" y="265" width="5" height="15" fill="#000"/>
<rect x="1051" y="266" width="3" height="13" fill="#fff"/>
<rect x="1060" y="262" width="1" height="30" fill="#000"/>
<rect x="1058" y="265" width="5" height="22" fill="#000"/>
<rect x="1068" y="272" width="1" height="32" fill="#000"/>
<rect x="1066" y="286" width="5" height="8" fill="#000"/>
<rect x="1076" y="267" width="1" height="29" fill="#000"/>
<rect x="1074" y="271" width="5" height="23" fill="#000"/>
<rect x="1075" y="272" width="3" height="21" fill="#fff"/>
<rect x="1084" y="268" width="1" height="20" fill="#000"/>
<rect x="1082" y="271" width="5" height="12" fill="#000"/>
<rect x="1092" y="273" width="1" height="20" fill="#000"/>
<rect x="1090" y="274" width="5" height="9" fill="#000"/>
<rect x="1091" y="275" width="3" height="7" fill="#fff"/>
<rect x="1100" y="271" width="1" height="25" fill="#000"/>
<rect x="1098" y="274" width="5" height="15" fill="#000"/>
<rect x="1108" y="282" width="1" height="42" fill="#000"/>
<rect x="1106" y="291" width="5" height="6" fill="#000"/>
<rect x="1116" y="291" width="1" height="22" fill="#000"/>
<rect x="1114" y="296" width="5" height="8" fill="#000"/>
<rect x="1124" y="287" width="1" height="19" fill="#000"/>
<rect x="1122" y="293" width="5" height="11" fill="#000"/>
<rect x="1123" y="294" width="3" height="9" fill="#fff"/>
<rect x="1132" y="258" width="1" height="38" fill="#000"/>
<rect x="1130" y="265" width="5" height="29" fill="#000"/>
<rect x="1131" y="266" width="3" height="27" fill="#fff"/>
<rect x="1140" y="263" width="1" height="29" fill="#000"/>
<rect x="1138" y="265" width="5" height="6" fill="#000"/>
<rect x="1148" y="270" width="1" height="12" fill="#000"/>
<rect x="1146" y="270" width="5" height="9" fill="#000"/>
<rect x="1156" y="272" width="1" height="17" fill="#000"/>
<rect x="1154" y="278" width="5" height="8" fill="#000"/>
<rect x="1164" y="281" width="1" height="19" fill="#000"/>
<rect x="1162" y="286" width="5" height="8" fill="#000"/>
<rect x="1172" y="280" width="1" height="19" fill="#000"/>
<rect x="1170" y="284" width="5" height="9" fill="#000"/>
<rect x="1171" y="285" width="3" height="7" fill="#fff"/>
<rect x="1180" y="268" width="1" height="24" fill="#000"/>
<rect x="1178" y="281" width="5" height="4" fill="#000"/>
<rect x="1179" y="282" width="3" height="2" fill="#fff"/>
<rect x="1188" y="274" width="1" height="14" fill="#000"/>
<rect x="1186" y="281" width="5" height="2" fill="#000"/>
<rect x="1196" y="279" width="1" height="9" fill="#000"/>
<rect x="1194" y="281" width="5" height="5" fill="#000"/>
<rect x="1204" y="277" width="1" height="11" fill="#000"/>
<rect x="1202" y="283" width="5" height="3" fill="#000"/>
<rect x="1212" y="270" width="1" height="17" fill="#000"/>
<rect x="1210" y="277" width="5" height="8" fill="#000"/>
<rect x="1211" y="278" width="3" height="6" fill="#fff"/>
<rect x="1220" y="258" width="1" height="26" fill="#000"/>
<rect x="1218" y="271" width="5" height="7" fill="#000"/>
<rect x="1219" y="272" width="3" height="5" fill="#fff"/>
<rect x="1228" y="264" width="1" height="30" fill="#000"/>
<rect x="1226" y="271" width="5" height="16" fill="#000"/>
<rect x="1236" y="278" width="1" height="17" fill="#000"/>
<rect x="1234" y="280" width="5" height="7" fill="#000"/>
<rect x="1235" y="281" width="3" height="5" fill="#fff"/>
<rect x="1244" y="274" width="1" height="12" fill="#000"/>
<rect x="1242" y="281" width="5" height="2" fill="#000"/>
<rect x="1252" y="281" width="1" height="8" fill="#000"/>
<rect x="1250" y="282" width="5" height="7" fill="#000"/>
<rect x="1260" y="281" width="1" height="21" fill="#000"/>
<rect x="1258" y="291" width="5" height="6" fill="#000"/>
<rect x="1268" y="294" width="1" height="24" fill="#000"/>
<rect x="1266" y="296" width="5" height="16" fill="#000"/>
<rect x="1276" y="308" width="1" height="28" fill="#000"/>
<rect x="1274" y="311" width="5" height="15" fill="#000"/>
<rect x="1284" y="311" width="1" height="21" fill="#000"/>
<rect x="1282" y="316" width="5" height="15" fill="#000"/>
<rect x="1283" y="317" width="3" height="13" fill="#fff"/>
<rect x="1292" y="324" width="1" height="10" fill="#000"/>
<rect x="1290" y="325" width="5" height="8" fill="#000"/>
<rect x="1300" y="325" width="1" height="10" fill="#000"/>
<rect x="1298" y="326" width="5" height="6" fill="#000"/>
<rect x="1299" y="327" width="3" height="4" fill="#fff"/>
<rect x="1308" y="302" width="1" height="31" fill="#000"/>
<rect x="1306" y="304" width="5" height="23" fill="#000"/>
<rect x="1307" y="305" width="3" height="21" fill="#fff"/>
<rect x="1316" y="300" width="1" height="17" fill="#000"/>
<rect x="1314" y="304" width="5" height="1" fill="#000"/>
<rect x="1324" y="302" width="1" height="21" fill="#000"/>
<rect x="1322" y="305" width="5" height="6" fill="#000"/>
<rect x="1332" y="302" width="1" height="31" fill="#000"/>
<rect x="1330" y="306" width="5" height="19" fill="#000"/>
<rect x="1340" y="320" width="1" height="11" fill="#000"/>
<rect x="1338" y="323" width="5" height="6" fill="#000"/>
<rect x="1348" y="327" width="1" height="2" fill="#000"/>
<rect x="1346" y="327" width="5" height="2" fill="#000"/>
<rect x="1295" y="305" width="87" height="8" fill="#00ee00"/>
<rect x="1036.5" y="260.5" width="229" height="29" fill="none" stroke="#0000f0" stroke-width="3"/>
<line x1="1219.5" y1="262.5" x2="1282.5" y2="335.5" stroke="#0000f0" stroke-width="3.2"/><polygon points="1282.5,335.5 1271.2,330.1 1278.8,323.5" fill="#0000f0"/>
<line x1="1282.5" y1="335.5" x2="1314" y2="317" stroke="#0000f0" stroke-width="3.2"/><polygon points="1314.0,317.0 1306.6,327.1 1301.6,318.5" fill="#0000f0"/>
<line x1="1300" y1="323" x2="1325" y2="302.8" stroke="#0000f0" stroke-width="3.2"/><polygon points="1325.0,302.8 1319.2,313.9 1312.9,306.1" fill="#0000f0"/>
<line x1="1325" y1="302.8" x2="1385" y2="348.6" stroke="#0000f0" stroke-width="3.2"/><polygon points="1385.0,348.6 1372.8,345.6 1378.9,337.6" fill="#0000f0"/>
</g>
<rect x="1600.5" y="261.5" width="4" height="4" fill="#fff" stroke="#ff0000" stroke-width="1"/>
<rect x="1600.5" y="284.5" width="4" height="4" fill="#fff" stroke="#ff4500" stroke-width="1"/>
<rect x="1600.5" y="305.5" width="4" height="4" fill="#fff" stroke="#32cd32" stroke-width="1"/>
<rect x="1600.5" y="352.5" width="4" height="4" fill="#fff" stroke="#0000ff" stroke-width="1"/>
<rect x="1600.5" y="374.5" width="4" height="4" fill="#fff" stroke="#0000ff" stroke-width="1"/>
<rect x="0" y="261" width="1" height="5" fill="#ff0000"/>
<rect x="0" y="284" width="1" height="5" fill="#ff4500"/>
<rect x="0" y="305" width="1" height="5" fill="#32cd32"/>
<rect x="0" y="352" width="1" height="5" fill="#0000ff"/>
<rect x="0" y="374" width="1" height="5" fill="#0000ff"/>
<rect x="4" y="646" width="1" height="3" fill="#c0c0c0"/>
<rect x="12" y="646" width="1" height="3" fill="#c0c0c0"/>
<rect x="20" y="646" width="1" height="4" fill="#c0c0c0"/>
<rect x="28" y="646" width="1" height="5" fill="#c0c0c0"/>
<rect x="36" y="646" width="1" height="6" fill="#c0c0c0"/>
<rect x="44" y="646" width="1" height="7" fill="#c0c0c0"/>
<rect x="52" y="646" width="1" height="7" fill="#c0c0c0"/>
<rect x="60" y="646" width="1" height="8" fill="#c0c0c0"/>
<rect x="68" y="646" width="1" height="9" fill="#c0c0c0"/>
<rect x="76" y="646" width="1" height="10" fill="#c0c0c0"/>
<rect x="84" y="646" width="1" height="11" fill="#c0c0c0"/>
<rect x="92" y="646" width="1" height="11" fill="#c0c0c0"/>
<rect x="100" y="646" width="1" height="12" fill="#c0c0c0"/>
<rect x="108" y="646" width="1" height="13" fill="#c0c0c0"/>
<rect x="116" y="646" width="1" height="14" fill="#c0c0c0"/>
<rect x="124" y="646" width="1" height="15" fill="#c0c0c0"/>
<rect x="132" y="646" width="1" height="15" fill="#c0c0c0"/>
<rect x="140" y="646" width="1" height="14" fill="#c0c0c0"/>
<rect x="148" y="646" width="1" height="14" fill="#c0c0c0"/>
<rect x="156" y="646" width="1" height="13" fill="#c0c0c0"/>
<rect x="164" y="646" width="1" height="12" fill="#c0c0c0"/>
<rect x="172" y="646" width="1" height="11" fill="#c0c0c0"/>
<rect x="180" y="646" width="1" height="10" fill="#c0c0c0"/>
<rect x="188" y="646" width="1" height="9" fill="#c0c0c0"/>
<rect x="196" y="646" width="1" height="8" fill="#c0c0c0"/>
<rect x="204" y="646" width="1" height="7" fill="#c0c0c0"/>
<rect x="212" y="646" width="1" height="6" fill="#c0c0c0"/>
<rect x="220" y="646" width="1" height="5" fill="#c0c0c0"/>
<rect x="228" y="646" width="1" height="4" fill="#c0c0c0"/>
<rect x="236" y="646" width="1" height="3" fill="#c0c0c0"/>
<rect x="244" y="646" width="1" height="1" fill="#c0c0c0"/>
<rect x="252" y="645" width="1" height="2" fill="#c0c0c0"/>
<rect x="260" y="644" width="1" height="3" fill="#c0c0c0"/>
<rect x="268" y="642" width="1" height="5" fill="#c0c0c0"/>
<rect x="276" y="640" width="1" height="7" fill="#c0c0c0"/>
<rect x="284" y="639" width="1" height="8" fill="#c0c0c0"/>
<rect x="292" y="637" width="1" height="10" fill="#c0c0c0"/>
<rect x="300" y="636" width="1" height="11" fill="#c0c0c0"/>
<rect x="308" y="634" width="1" height="13" fill="#c0c0c0"/>
<rect x="316" y="633" width="1" height="14" fill="#c0c0c0"/>
<rect x="324" y="631" width="1" height="16" fill="#c0c0c0"/>
<rect x="332" y="629" width="1" height="18" fill="#c0c0c0"/>
<rect x="340" y="627" width="1" height="20" fill="#c0c0c0"/>
<rect x="348" y="622" width="1" height="25" fill="#c0c0c0"/>
<rect x="356" y="622" width="1" height="25" fill="#c0c0c0"/>
<rect x="364" y="622" width="1" height="25" fill="#c0c0c0"/>
<rect x="372" y="622" width="1" height="25" fill="#c0c0c0"/>
<rect x="380" y="624" width="1" height="23" fill="#c0c0c0"/>
<rect x="388" y="625" width="1" height="22" fill="#c0c0c0"/>
<rect x="396" y="626" width="1" height="21" fill="#c0c0c0"/>
<rect x="404" y="628" width="1" height="19" fill="#c0c0c0"/>
<rect x="412" y="633" width="1" height="14" fill="#c0c0c0"/>
<rect x="420" y="638" width="1" height="9" fill="#c0c0c0"/>
<rect x="428" y="642" width="1" height="5" fill="#c0c0c0"/>
<rect x="436" y="644" width="1" height="3" fill="#c0c0c0"/>
<rect x="444" y="646" width="1" height="1" fill="#c0c0c0"/>
<rect x="452" y="646" width="1" height="2" fill="#c0c0c0"/>
<rect x="460" y="646" width="1" height="3" fill="#c0c0c0"/>
<rect x="468" y="646" width="1" height="8" fill="#c0c0c0"/>
<rect x="476" y="646" width="1" height="11" fill="#c0c0c0"/>
<rect x="484" y="646" width="1" height="13" fill="#c0c0c0"/>
<rect x="492" y="646" width="1" height="14" fill="#c0c0c0"/>
<rect x="500" y="646" width="1" height="17" fill="#c0c0c0"/>
<rect x="508" y="646" width="1" height="25" fill="#c0c0c0"/>
<rect x="516" y="646" width="1" height="29" fill="#c0c0c0"/>
<rect x="524" y="646" width="1" height="33" fill="#c0c0c0"/>
<rect x="532" y="646" width="1" height="36" fill="#c0c0c0"/>
<rect x="540" y="646" width="1" height="36" fill="#c0c0c0"/>
<rect x="548" y="646" width="1" height="39" fill="#c0c0c0"/>
<rect x="556" y="646" width="1" height="44" fill="#c0c0c0"/>
<rect x="564" y="646" width="1" height="50" fill="#c0c0c0"/>
<rect x="572" y="646" width="1" height="51" fill="#c0c0c0"/>
<rect x="580" y="646" width="1" height="53" fill="#c0c0c0"/>
<rect x="588" y="646" width="1" height="56" fill="#c0c0c0"/>
<rect x="596" y="646" width="1" height="56" fill="#c0c0c0"/>
<rect x="604" y="646" width="1" height="57" fill="#c0c0c0"/>
<rect x="612" y="646" width="1" height="58" fill="#c0c0c0"/>
<rect x="620" y="646" width="1" height="58" fill="#c0c0c0"/>
<rect x="628" y="646" width="1" height="57" fill="#c0c0c0"/>
<rect x="636" y="646" width="1" height="57" fill="#c0c0c0"/>
<rect x="644" y="646" width="1" height="60" fill="#c0c0c0"/>
<rect x="652" y="646" width="1" height="63" fill="#c0c0c0"/>
<rect x="660" y="646" width="1" height="64" fill="#c0c0c0"/>
<rect x="668" y="646" width="1" height="62" fill="#c0c0c0"/>
<rect x="676" y="646" width="1" height="61" fill="#c0c0c0"/>
<rect x="684" y="646" width="1" height="61" fill="#c0c0c0"/>
<rect x="692" y="646" width="1" height="64" fill="#c0c0c0"/>
<rect x="700" y="646" width="1" height="69" fill="#c0c0c0"/>
<rect x="708" y="646" width="1" height="78" fill="#c0c0c0"/>
<rect x="716" y="646" width="1" height="84" fill="#c0c0c0"/>
<rect x="724" y="646" width="1" height="90" fill="#c0c0c0"/>
<rect x="732" y="646" width="1" height="94" fill="#c0c0c0"/>
<rect x="740" y="646" width="1" height="95" fill="#c0c0c0"/>
<rect x="748" y="646" width="1" height="91" fill="#c0c0c0"/>
<rect x="756" y="646" width="1" height="90" fill="#c0c0c0"/>
<rect x="764" y="646" width="1" height="90" fill="#c0c0c0"/>
<rect x="772" y="646" width="1" height="85" fill="#c0c0c0"/>
<rect x="780" y="646" width="1" height="75" fill="#c0c0c0"/>
<rect x="788" y="646" width="1" height="67" fill="#c0c0c0"/>
<rect x="796" y="646" width="1" height="61" fill="#c0c0c0"/>
<rect x="804" y="646" width="1" height="61" fill="#c0c0c0"/>
<rect x="812" y="646" width="1" height="59" fill="#c0c0c0"/>
<rect x="820" y="646" width="1" height="56" fill="#c0c0c0"/>
<rect x="828" y="646" width="1" height="51" fill="#c0c0c0"/>
<rect x="836" y="646" width="1" height="52" fill="#c0c0c0"/>
<rect x="844" y="646" width="1" height="53" fill="#c0c0c0"/>
<rect x="852" y="646" width="1" height="53" fill="#c0c0c0"/>
<rect x="860" y="646" width="1" height="50" fill="#c0c0c0"/>
<rect x="868" y="646" width="1" height="45" fill="#c0c0c0"/>
<rect x="876" y="646" width="1" height="40" fill="#c0c0c0"/>
<rect x="884" y="646" width="1" height="34" fill="#c0c0c0"/>
<rect x="892" y="646" width="1" height="27" fill="#c0c0c0"/>
<rect x="900" y="646" width="1" height="22" fill="#c0c0c0"/>
<rect x="908" y="646" width="1" height="18" fill="#c0c0c0"/>
<rect x="916" y="646" width="1" height="13" fill="#c0c0c0"/>
<rect x="924" y="646" width="1" height="8" fill="#c0c0c0"/>
<rect x="932" y="646" width="1" height="3" fill="#c0c0c0"/>
<rect x="940" y="646" width="1" height="2" fill="#c0c0c0"/>
<rect x="948" y="645" width="1" height="2" fill="#c0c0c0"/>
<rect x="956" y="643" width="1" height="4" fill="#c0c0c0"/>
<rect x="964" y="641" width="1" height="6" fill="#c0c0c0"/>
<rect x="972" y="637" width="1" height="10" fill="#c0c0c0"/>
<rect x="980" y="634" width="1" height="13" fill="#c0c0c0"/>
<rect x="988" y="627" width="1" height="20" fill="#c0c0c0"/>
<rect x="996" y="618" width="1" height="29" fill="#c0c0c0"/>
<rect x="1004" y="613" width="1" height="34" fill="#c0c0c0"/>
<rect x="1012" y="607" width="1" height="40" fill="#c0c0c0"/>
<rect x="1020" y="606" width="1" height="41" fill="#c0c0c0"/>
<rect x="1028" y="603" width="1" height="44" fill="#c0c0c0"/>
<rect x="1036" y="599" width="1" height="48" fill="#c0c0c0"/>
<rect x="1044" y="592" width="1" height="55" fill="#c0c0c0"/>
<rect x="1052" y="588" width="1" height="59" fill="#c0c0c0"/>
<rect x="1060" y="588" width="1" height="59" fill="#c0c0c0"/>
<rect x="1068" y="589" width="1" height="58" fill="#c0c0c0"/>
<rect x="1076" y="589" width="1" height="58" fill="#c0c0c0"/>
<rect x="1084" y="590" width="1" height="57" fill="#c0c0c0"/>
<rect x="1092" y="592" width="1" height="55" fill="#c0c0c0"/>
<rect x="1100" y="594" width="1" height="53" fill="#c0c0c0"/>
<rect x="1108" y="597" width="1" height="50" fill="#c0c0c0"/>
<rect x="1116" y="601" width="1" height="46" fill="#c0c0c0"/>
<rect x="1124" y="604" width="1" height="43" fill="#c0c0c0"/>
<rect x="1132" y="604" width="1" height="43" fill="#c0c0c0"/>
<rect x="1140" y="605" width="1" height="42" fill="#c0c0c0"/>
<rect x="1148" y="607" width="1" height="40" fill="#c0c0c0"/>
<rect x="1156" y="609" width="1" height="38" fill="#c0c0c0"/>
<rect x="1164" y="612" width="1" height="35" fill="#c0c0c0"/>
<rect x="1172" y="615" width="1" height="32" fill="#c0c0c0"/>
<rect x="1180" y="616" width="1" height="31" fill="#c0c0c0"/>
<rect x="1188" y="618" width="1" height="29" fill="#c0c0c0"/>
<rect x="1196" y="620" width="1" height="27" fill="#c0c0c0"/>
<rect x="1204" y="622" width="1" height="25" fill="#c0c0c0"/>
<rect x="1212" y="622" width="1" height="25" fill="#c0c0c0"/>
<rect x="1220" y="623" width="1" height="24" fill="#c0c0c0"/>
<rect x="1228" y="625" width="1" height="22" fill="#c0c0c0"/>
<rect x="1236" y="627" width="1" height="20" fill="#c0c0c0"/>
<rect x="1244" y="628" width="1" height="19" fill="#c0c0c0"/>
<rect x="1252" y="630" width="1" height="17" fill="#c0c0c0"/>
<rect x="1260" y="632" width="1" height="15" fill="#c0c0c0"/>
<rect x="1268" y="636" width="1" height="11" fill="#c0c0c0"/>
<rect x="1276" y="641" width="1" height="6" fill="#c0c0c0"/>
<rect x="1284" y="642" width="1" height="5" fill="#c0c0c0"/>
<rect x="1292" y="645" width="1" height="2" fill="#c0c0c0"/>
<rect x="1300" y="646" width="1" height="1" fill="#c0c0c0"/>
<rect x="1308" y="646" width="1" height="1" fill="#c0c0c0"/>
<rect x="1316" y="646" width="1" height="1" fill="#c0c0c0"/>
<rect x="1324" y="646" width="1" height="1" fill="#c0c0c0"/>
<rect x="1332" y="646" width="1" height="1" fill="#c0c0c0"/>
<rect x="1340" y="646" width="1" height="3" fill="#c0c0c0"/>
<rect x="1348" y="646" width="1" height="7" fill="#c0c0c0"/>
<polyline points="3.0,645.5 20.5,646.3 51.5,649.8 84.5,653.9 114.5,656.9 132.5,659.5 153.0,660.0 188.5,660.0 211.5,657.7 231.5,655.7 244.5,652.4 261.1,650.6 277.5,646.8 292.5,644.2 308.1,640.4 325.9,637.1 341.2,633.5 356.5,629.5 373.0,625.2 387.0,623.9 400.5,623.9 415.5,625.2 433.5,629.5 451.5,636.1 469.1,643.0 484.5,649.3 500.9,653.9 517.0,660.8 533.0,667.1 549.0,672.2 565.0,680.3 581.0,688.0 597.0,693.1 613.1,697.6 621.2,700.2 637.0,701.7 653.0,703.5 669.0,704.7 685.0,705.8 701.0,707.8 717.1,712.9 733.1,720.5 749.1,726.9 757.2,730.7 773.2,734.5 781.1,733.7 789.3,732.0 800.5,726.9 815.8,720.5 833.5,710.3 844.7,705.8 860.8,700.9 874.2,697.6 892.8,690.0 908.8,683.6 924.8,674.7 935.3,667.1 953.1,657.7 972.9,649.3 988.9,641.7 1004.9,634.1 1020.9,625.2 1037.0,616.3 1053.0,605.6 1069.0,598.0 1085.0,593.4 1101.0,590.8 1109.2,590.8 1125.2,593.9 1141.2,597.2 1157.2,601.0 1173.2,606.1 1189.3,609.4 1205.3,613.7 1216.9,617.0 1236.1,620.3 1252.5,623.9 1271.5,627.1 1284.5,631.2 1300.5,637.0 1315.5,640.3 1326.5,643.8 1342.8,646.6 1348.5,649.8" fill="none" stroke="#ff0000" stroke-width="1" stroke-dasharray="3 3"/>
<line x1="3" y1="786.5" x2="1605" y2="786.5" stroke="#c0c0c0" stroke-width="1" stroke-dasharray="3 3"/>
<line x1="3" y1="837.5" x2="1605" y2="837.5" stroke="#c0c0c0" stroke-width="1" stroke-dasharray="3 3"/>
<line x1="3" y1="898.5" x2="1605" y2="898.5" stroke="#c0c0c0" stroke-width="1" stroke-dasharray="3 3"/>
<polyline points="0.5,851.0 4.5,847.7 12.5,847.7 20.5,864.2 28.5,863.0 36.5,852.8 44.5,854.8 52.5,858.3 60.5,861.9 68.5,853.1 76.5,877.0 84.5,869.3 92.5,865.0 100.5,854.1 108.5,860.7 116.5,865.5 124.5,870.8 132.5,861.2 140.5,863.0 148.5,859.9 156.5,851.8 164.5,855.3 172.5,844.7 180.5,845.9 188.5,843.9 196.5,845.9 204.5,852.3 212.5,851.0 220.5,840.3 228.5,826.9 236.5,826.1 244.5,826.1 252.5,824.8 260.5,812.1 268.5,810.8 276.5,807.0 284.5,806.0 292.5,802.7 300.5,799.7 308.5,792.5 316.5,789.5 324.5,798.9 332.5,786.7 340.5,793.8 348.5,782.9 356.5,810.8 364.5,810.8 372.5,809.8 380.5,818.7 388.5,821.8 396.5,820.5 404.5,828.9 412.5,851.0 420.5,855.6 428.5,856.1 436.5,851.8 444.5,855.6 452.5,851.0 460.5,856.1 468.5,869.6 476.5,865.8 484.5,863.7 492.5,864.5 500.5,876.4 508.5,891.7 516.5,879.0 524.5,880.8 532.5,882.0 540.5,877.2 548.5,881.5 556.5,889.2 564.5,893.5 572.5,875.9 580.5,879.5 588.5,882.8 596.5,877.0 604.5,880.8 612.5,882.0 620.5,879.7 628.5,880.8 636.5,884.8 644.5,889.9 652.5,894.7 660.5,881.5 668.5,875.9 676.5,875.9 684.5,881.5 692.5,887.4 700.5,894.7 708.5,899.8 716.5,895.0 724.5,898.1 732.5,899.3 740.5,889.9 748.5,873.1 756.5,879.0 764.5,881.0 772.5,863.7 780.5,846.7 788.5,850.5 796.5,852.3 804.5,861.9 812.5,858.1 820.5,854.8 828.5,854.8 836.5,862.5 844.5,864.5 852.5,865.8 860.5,852.3 868.5,849.2 876.5,847.7 884.5,836.5 892.5,833.7 900.5,837.5 908.5,833.7 916.5,831.9 924.5,828.6 932.5,823.8 940.5,838.8 948.5,827.6 956.5,831.2 964.5,829.9 972.5,823.0 980.5,819.7 988.5,807.3 996.5,801.9 1004.5,806.5 1012.5,800.7 1020.5,812.9 1028.5,811.1 1036.5,803.5 1044.5,796.9 1052.5,800.2 1060.5,809.6 1068.5,812.9 1076.5,807.8 1084.5,812.9 1092.5,810.8 1100.5,818.0 1108.5,821.0 1116.5,823.8 1124.5,821.0 1132.5,812.9 1140.5,814.1 1148.5,818.5 1156.5,822.5 1164.5,826.9 1172.5,823.8 1180.5,821.8 1188.5,821.8 1196.5,824.8 1204.5,823.8 1212.5,820.7 1220.5,817.7 1228.5,828.9 1236.5,825.7 1244.5,826.8 1252.5,830.3 1260.5,835.8 1268.5,846.7 1276.5,856.9 1284.5,846.7 1292.5,854.4 1300.5,850.3 1308.5,837.7 1316.5,837.7 1324.5,841.3 1332.5,848.6 1340.5,850.6 1348.5,850.8" fill="none" stroke="#1e90ff" stroke-width="1"/>
<rect x="60" y="925" width="1" height="3" fill="#000"/>
<rect x="124" y="925" width="1" height="3" fill="#000"/>
<rect x="188" y="925" width="1" height="3" fill="#000"/>
<rect x="252" y="925" width="1" height="3" fill="#000"/>
<rect x="316" y="925" width="1" height="3" fill="#000"/>
<rect x="380" y="925" width="1" height="3" fill="#000"/>
<rect x="444" y="925" width="1" height="3" fill="#000"/>
<rect x="508" y="925" width="1" height="3" fill="#000"/>
<rect x="572" y="925" width="1" height="3" fill="#000"/>
<rect x="636" y="925" width="1" height="3" fill="#000"/>
<rect x="700" y="925" width="1" height="3" fill="#000"/>
<rect x="764" y="925" width="1" height="3" fill="#000"/>
<rect x="828" y="925" width="1" height="3" fill="#000"/>
<rect x="892" y="925" width="1" height="3" fill="#000"/>
<rect x="956" y="925" width="1" height="3" fill="#000"/>
<rect x="1020" y="925" width="1" height="3" fill="#000"/>
<rect x="1084" y="925" width="1" height="3" fill="#000"/>
<rect x="1148" y="925" width="1" height="3" fill="#000"/>
<rect x="1212" y="925" width="1" height="3" fill="#000"/>
<rect x="1276" y="925" width="1" height="3" fill="#000"/>
<rect x="1340" y="925" width="1" height="3" fill="#000"/>
<rect x="1606" y="46" width="2" height="1" fill="#000"/>
<rect x="1606" y="79" width="2" height="1" fill="#000"/>
<rect x="1606" y="112" width="2" height="1" fill="#000"/>
<rect x="1606" y="145" width="2" height="1" fill="#000"/>
<rect x="1606" y="178" width="2" height="1" fill="#000"/>
<rect x="1606" y="211" width="2" height="1" fill="#000"/>
<rect x="1606" y="244" width="2" height="1" fill="#000"/>
<rect x="1606" y="277" width="2" height="1" fill="#000"/>
<rect x="1606" y="310" width="2" height="1" fill="#000"/>
<rect x="1606" y="343" width="2" height="1" fill="#000"/>
<rect x="1606" y="376" width="2" height="1" fill="#000"/>
<rect x="1606" y="408" width="2" height="1" fill="#000"/>
<rect x="1606" y="441" width="2" height="1" fill="#000"/>
<rect x="1606" y="474" width="2" height="1" fill="#000"/>
<rect x="1606" y="507" width="2" height="1" fill="#000"/>
<rect x="1606" y="540" width="2" height="1" fill="#000"/>
<rect x="1606" y="573" width="2" height="1" fill="#000"/>
<rect x="1606" y="580" width="2" height="1" fill="#000"/>
<rect x="1606" y="646" width="2" height="1" fill="#000"/>
<rect x="1606" y="747" width="2" height="1" fill="#000"/>
<rect x="1606" y="752" width="2" height="1" fill="#000"/>
<rect x="1606" y="923" width="2" height="1" fill="#000"/>
</svg>
<svg id="labels" width="1652" height="945" viewBox="0 0 1652 945" font-family='"Liberation Sans","Noto Sans CJK SC",sans-serif' font-size="9.3" fill="#000">
<text x="1610.3" y="49.0">1.32180</text>
<text x="1610.3" y="82.0">1.31010</text>
<text x="1610.3" y="114.9">1.29870</text>
<text x="1610.3" y="147.9">1.28700</text>
<text x="1610.3" y="180.9">1.27560</text>
<text x="1610.3" y="213.8">1.26420</text>
<text x="1610.3" y="246.8">1.25250</text>
<text x="1610.3" y="279.8">1.24110</text>
<text x="1610.3" y="312.8">1.22940</text>
<text x="1610.3" y="345.7">1.21800</text>
<text x="1610.3" y="378.7">1.20630</text>
<text x="1610.3" y="411.7">1.19490</text>
<text x="1610.3" y="444.6">1.18350</text>
<text x="1610.3" y="477.6">1.17180</text>
<text x="1610.3" y="510.6">1.16040</text>
<text x="1610.3" y="543.5">1.14870</text>
<text x="1610.3" y="576.5">1.13730</text>
<rect x="1607" y="257" width="41" height="11" fill="#ff0000" shape-rendering="crispEdges"/>
<text x="1610" y="265.7" fill="#fff">1.24555</text>
<rect x="1607" y="280" width="41" height="11" fill="#ff4500" shape-rendering="crispEdges"/>
<text x="1610" y="288.7" fill="#fff">1.23753</text>
<rect x="1607" y="301" width="41" height="11" fill="#32cd32" shape-rendering="crispEdges"/>
<text x="1610" y="309.7" fill="#fff">1.23021</text>
<rect x="1607" y="322" width="41" height="11" fill="#000000" shape-rendering="crispEdges"/>
<text x="1610" y="330.7" fill="#fff">1.22305</text>
<rect x="1607" y="348" width="41" height="11" fill="#0000ff" shape-rendering="crispEdges"/>
<text x="1610" y="356.7" fill="#fff">1.21382</text>
<rect x="1607" y="370" width="41" height="11" fill="#0000ff" shape-rendering="crispEdges"/>
<text x="1610" y="378.7" fill="#fff">1.20615</text>
<text x="1608.5" y="588.9">0.018721</text>
<text x="1608.5" y="649.9">0.00</text>
<text x="1608.5" y="744.9">-0.028913</text>
<text x="1608.5" y="760.9">100</text>
<text x="1608.5" y="789.9">80</text>
<text x="1608.5" y="840.9">50</text>
<text x="1608.5" y="901.9">15</text>
<text x="1608.5" y="920.9">0</text>
<text x="-5.2" y="937" font-size="9.45">26 Feb 2020</text>
<text x="58.8" y="937" font-size="9.45">28 Feb 04:00</text>
<text x="122.8" y="937" font-size="9.45">2 Mar 12:00</text>
<text x="186.8" y="937" font-size="9.45">3 Mar 20:00</text>
<text x="250.8" y="937" font-size="9.45">5 Mar 04:00</text>
<text x="314.8" y="937" font-size="9.45">6 Mar 12:00</text>
<text x="378.8" y="937" font-size="9.45">9 Mar 20:00</text>
<text x="442.8" y="937" font-size="9.45">11 Mar 04:00</text>
<text x="506.8" y="937" font-size="9.45">12 Mar 12:00</text>
<text x="570.8" y="937" font-size="9.45">15 Mar 23:00</text>
<text x="634.8" y="937" font-size="9.45">17 Mar 04:00</text>
<text x="698.8" y="937" font-size="9.45">18 Mar 12:00</text>
<text x="762.8" y="937" font-size="9.45">19 Mar 20:00</text>
<text x="826.8" y="937" font-size="9.45">23 Mar 04:00</text>
<text x="890.8" y="937" font-size="9.45">24 Mar 12:00</text>
<text x="954.8" y="937" font-size="9.45">25 Mar 20:00</text>
<text x="1018.8" y="937" font-size="9.45">27 Mar 04:00</text>
<text x="1082.8" y="937" font-size="9.45">30 Mar 12:00</text>
<text x="1146.8" y="937" font-size="9.45">31 Mar 20:00</text>
<text x="1210.8" y="937" font-size="9.45">2 Apr 04:00</text>
<text x="1274.8" y="937" font-size="9.45">3 Apr 12:00</text>
<text x="1338.8" y="937" font-size="9.45">6 Apr 20:00</text>
<text x="11" y="35">GBPUSD-,H4&#160;&#160;1.22293 1.22315 1.22293 1.22305</text>
<polygon points="0,34 6,34 3,30" fill="#000"/>
<text x="1" y="590">MACD(12,26,9) -0.001698 -0.000594</text>
<text x="0" y="762">RSI(14) 42.7168</text>
<text x="1406.7" y="285.3" font-family='"Liberation Serif","Noto Serif CJK SC",serif' font-size="31" font-weight="600" letter-spacing="1.7" fill="#0a3a0a">多空转折点</text>
<text x="1405.7" y="284.3" font-family='"Liberation Serif","Noto Serif CJK SC",serif' font-size="31" font-weight="600" letter-spacing="1.7" fill="#00ff00">多空转折点</text>
<rect x="1509" y="307" width="8" height="1" fill="#ff0000" shape-rendering="crispEdges"/>
<rect x="1516.5" y="305.5" width="3" height="4" fill="#fff" stroke="#ff0000" shape-rendering="crispEdges"/>
<rect x="1519.5" y="295.5" width="73" height="24" fill="#fff" stroke="#ff0000" shape-rendering="crispEdges"/>
<text x="1520.6" y="315.5" font-size="22.6" fill="#ff0000" textLength="71.5" lengthAdjust="spacingAndGlyphs">1.23021</text>
</svg><div id="tp">
<div class="pr" style="left:0;width:108px"></div>
<div class="pr" style="left:110px;width:108px"></div>
<div class="btn" style="left:0">SELL<i></i></div>
<div class="btn" style="left:167px">BUY<i></i></div>
<div class="spin">
<div class="sb" style="left:2px"><svg width="18" height="18" style="position:absolute;left:0;top:0"><polygon points="6.500,7.500 11.500,7.500 9,10.500" fill="#4a5aa8"/></svg></div>
<div class="inp">1.00</div>
<div class="sb" style="left:92px"><svg width="18" height="18" style="position:absolute;left:0;top:0"><polygon points="6.500,10.500 11.500,10.500 9,7.500" fill="#4a5aa8"/></svg></div>
</div>
<span class="sm" style="left:19px;top:44.7px">1.22</span>
<span class="bg" style="left:46.5px;top:27.5px">30</span>
<span class="sup" style="left:86.500px;top:30px">5</span>
<span class="sm" style="left:129.5px;top:44.7px">1.22</span>
<span class="bg" style="left:157px;top:27.5px">35</span>
<span class="sup" style="left:197.7px;top:30px">0</span>
</div>
<div id="rightedge"></div>
</body></html>
